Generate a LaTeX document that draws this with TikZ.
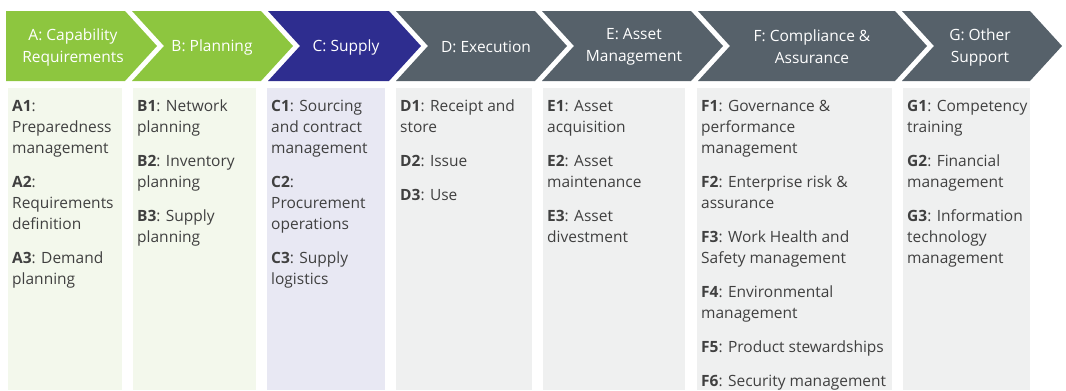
\documentclass[tikz,border=0pt]{standalone}
\usepackage{fontspec}
\setmainfont{Open Sans}
\usetikzlibrary{positioning}

\definecolor{capgreen}{HTML}{8DC63F}
\definecolor{supplyblue}{HTML}{2E2D8F}
\definecolor{slate}{HTML}{56616A}
\definecolor{palegreen}{HTML}{F3F8EC}
\definecolor{palelilac}{HTML}{E8E8F3}
\definecolor{palegrey}{HTML}{EFF0F0}
\definecolor{bodytext}{HTML}{404040}

\begin{document}
\begin{tikzpicture}[x=1pt, y=-1pt,
    head/.style={text=white, align=center, inner sep=0pt, font=\fontsize{15.5}{22}\selectfont},
    column/.style={anchor=north west, inner sep=0pt, minimum height=302pt},
    items/.style={anchor=north west, inner sep=0pt, align=left, text=bodytext, font=\fontsize{15.5}{21}\selectfont}
]
    \useasboundingbox (0,0) rectangle (1066,391);

    \fill[capgreen] (6,11) -- (125,11) -- (157,46) -- (125,81) -- (6,81) -- cycle;
    \fill[capgreen] (132,11) -- (261,11) -- (293,46) -- (261,81) -- (132,81) -- (164,46) -- cycle;
    \fill[supplyblue] (268,11) -- (389,11) -- (421,46) -- (389,81) -- (268,81) -- (300,46) -- cycle;
    \fill[slate] (396,11) -- (535,11) -- (567,46) -- (535,81) -- (396,81) -- (428,46) -- cycle;
    \fill[slate] (542,11) -- (691,11) -- (723,46) -- (691,81) -- (542,81) -- (574,46) -- cycle;
    \fill[slate] (698,11) -- (895,11) -- (927,46) -- (895,81) -- (698,81) -- (730,46) -- cycle;
    \fill[slate] (902,11) -- (1030,11) -- (1062,46) -- (1030,81) -- (902,81) -- (934,46) -- cycle;

    \node[head] (headA) at (73,47) {A: Capability\\Requirements};
    \node[head] (headB) at (212,47) {B: Planning};
    \node[head] (headC) at (346,47) {C: Supply};
    \node[head] (headD) at (486,47) {D: Execution};
    \node[head] (headE) at (634,47) {E: Asset\\Management};
    \node[head] (headF) at (812,47) {F: Compliance \&\\Assurance};
    \node[head] (headG) at (980,47) {G: Other\\Support};

    \node[column, fill=palegreen, minimum width=114pt] (colA) at (8,88) {};
    \node[column, fill=palegreen, minimum width=123pt] (colB) at (133,88) {};
    \node[column, fill=palelilac, minimum width=118pt] (colC) at (267,88) {};
    \node[column, fill=palegrey, minimum width=136pt] (colD) at (396,88) {};
    \node[column, fill=palegrey, minimum width=142pt] (colE) at (543,88) {};
    \node[column, fill=palegrey, minimum width=195pt] (colF) at (697,88) {};
    \node[column, fill=palegrey, minimum width=127pt] (colG) at (903,88) {};

    \node[items] (listA) at ([xshift=4pt, yshift=-12pt]colA.north west)
        {\textbf{A1}:\\Preparedness\\management\\[13pt]
         \textbf{A2}:\\Requirements\\definition\\[13pt]
         \textbf{A3}: Demand\\planning};
    \node[items] (listB) at ([xshift=4pt, yshift=-12pt]colB.north west)
        {\textbf{B1}: Network\\planning\\[13pt]
         \textbf{B2}: Inventory\\planning\\[13pt]
         \textbf{B3}: Supply\\planning};
    \node[items] (listC) at ([xshift=4pt, yshift=-12pt]colC.north west)
        {\textbf{C1}: Sourcing\\and contract\\management\\[13pt]
         \textbf{C2}:\\Procurement\\operations\\[13pt]
         \textbf{C3}: Supply\\logistics};
    \node[items] (listD) at ([xshift=4pt, yshift=-12pt]colD.north west)
        {\textbf{D1}: Receipt and\\store\\[13pt]
         \textbf{D2}: Issue\\[13pt]
         \textbf{D3}: Use};
    \node[items] (listE) at ([xshift=4pt, yshift=-12pt]colE.north west)
        {\textbf{E1}: Asset\\acquisition\\[13pt]
         \textbf{E2}: Asset\\maintenance\\[13pt]
         \textbf{E3}: Asset\\divestment};
    \node[items] (listF) at ([xshift=4pt, yshift=-12pt]colF.north west)
        {\textbf{F1}: Governance \&\\performance\\management\\[13pt]
         \textbf{F2}: Enterprise risk \&\\assurance\\[13pt]
         \textbf{F3}: Work Health and\\Safety management\\[13pt]
         \textbf{F4}: Environmental\\management\\[13pt]
         \textbf{F5}: Product stewardships\\[13pt]
         \textbf{F6}: Security management};
    \node[items] (listG) at ([xshift=4pt, yshift=-12pt]colG.north west)
        {\textbf{G1}: Competency\\training\\[13pt]
         \textbf{G2}: Financial\\management\\[13pt]
         \textbf{G3}: Information\\technology\\management};
\end{tikzpicture}
\end{document}
